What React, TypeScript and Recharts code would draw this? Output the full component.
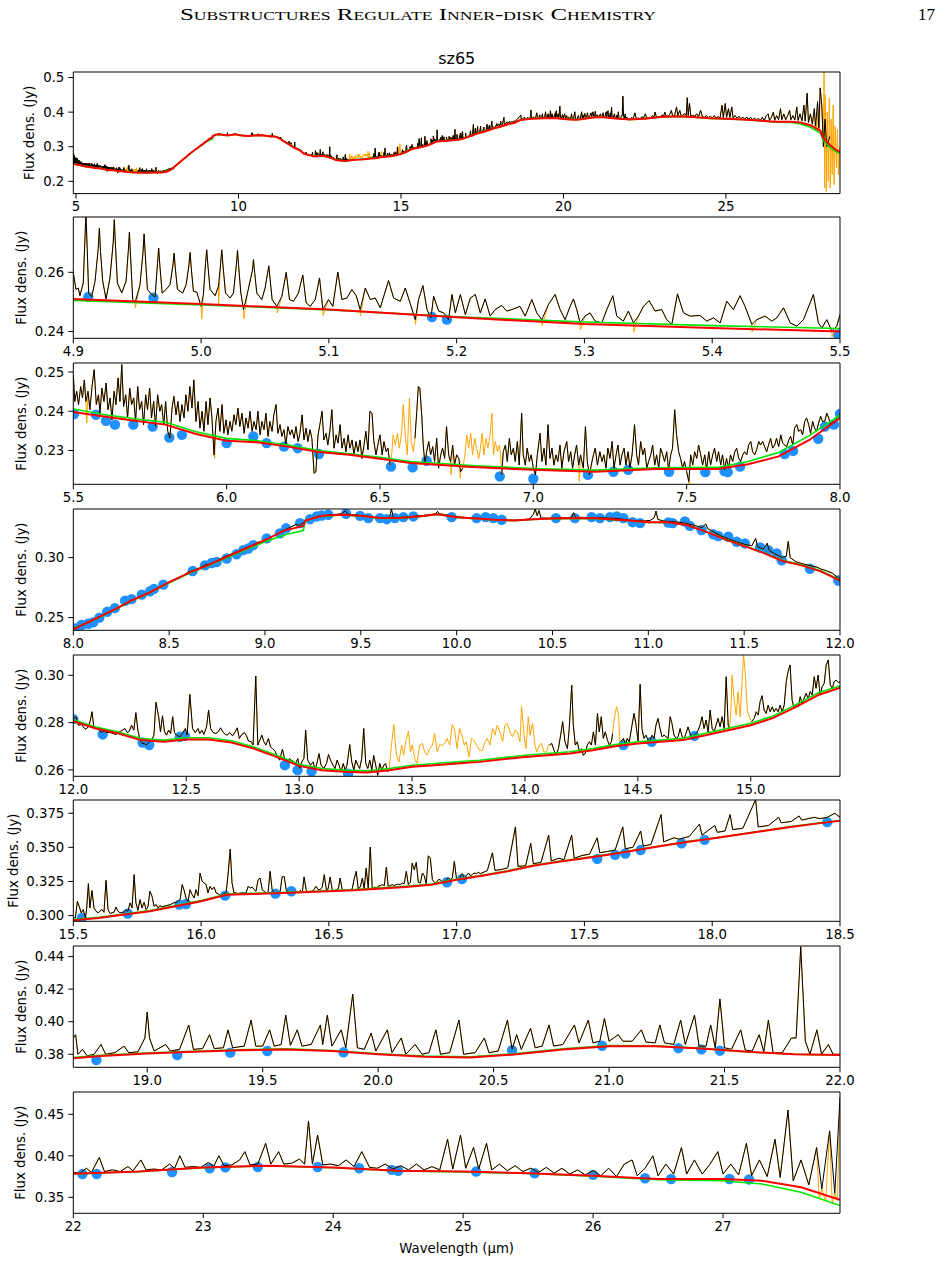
import React from "react";
import { ComposedChart, Line, Scatter, XAxis, YAxis, ReferenceArea, Label } from "recharts";

type P = [number, number | null];

// ---------- 4.9 – 5.5 µm ----------
const spec2: P[] = [
  [4.9000,0.2598],[4.9021,0.2542],[4.9039,0.2547],[4.9052,0.2521],[4.9078,0.2564],[4.9090,0.2700],[4.9099,0.2800],[4.9108,0.2690],[4.9120,0.2530],[4.9144,0.2517],
  [4.9170,0.2570],[4.9195,0.2680],[4.9204,0.2749],[4.9213,0.2670],[4.9230,0.2570],[4.9256,0.2510],[4.9287,0.2581],[4.9312,0.2700],[4.9321,0.2778],[4.9330,0.2690],[4.9345,0.2564],[4.9379,0.2530],
  [4.9413,0.2570],[4.9430,0.2670],[4.9439,0.2735],[4.9448,0.2655],[4.9465,0.2508],[4.9483,0.2497],[4.9522,0.2558],[4.9545,0.2665],[4.9554,0.2730],[4.9563,0.2660],[4.9580,0.2542],[4.9614,0.2525],
  [4.9640,0.2517],[4.9659,0.2630],[4.9668,0.2682],[4.9677,0.2625],[4.9695,0.2530],[4.9726,0.2542],[4.9757,0.2558],[4.9780,0.2625],[4.9789,0.2665],[4.9798,0.2615],[4.9815,0.2542],[4.9856,0.2530],
  [4.9883,0.2558],[4.9905,0.2625],[4.9914,0.2667],[4.9923,0.2615],[4.9940,0.2536],[4.9966,0.2533],[5.0000,0.2485],[5.0018,0.2525],[5.0035,0.2630],[5.0044,0.2676],[5.0053,0.2625],[5.0070,0.2542],
  [5.0110,0.2521],[5.0136,0.2553],[5.0153,0.2630],[5.0162,0.2676],[5.0171,0.2625],[5.0191,0.2530],[5.0227,0.2513],[5.0253,0.2530],[5.0276,0.2625],[5.0285,0.2674],[5.0294,0.2620],[5.0311,0.2530],
  [5.0332,0.2474],[5.0363,0.2530],[5.0401,0.2605],[5.0410,0.2643],[5.0419,0.2600],[5.0436,0.2530],[5.0475,0.2508],[5.0501,0.2547],[5.0530,0.2622],[5.0556,0.2508],
  [5.0593,0.2485],[5.0632,0.2519],[5.0666,0.2600],[5.0692,0.2508],[5.0723,0.2502],[5.0762,0.2530],[5.0796,0.2591],[5.0822,0.2497],
  [5.0854,0.2485],[5.0893,0.2508],[5.0927,0.2581],[5.0953,0.2474],[5.0997,0.2508],[5.1031,0.2485],[5.1070,0.2601],[5.1102,0.2508],
  [5.1141,0.2513],[5.1180,0.2542],[5.1214,0.2521],[5.1245,0.2474],[5.1285,0.2547],[5.1324,0.2508],[5.1363,0.2513],[5.1402,0.2480],
  [5.1467,0.2572],[5.1507,0.2513],[5.1559,0.2502],[5.1598,0.2547],[5.1637,0.2494],[5.1676,0.2440],[5.1702,0.2508],[5.1736,0.2555],
  [5.1768,0.2474],[5.1799,0.2446],[5.1820,0.2519],[5.1859,0.2469],[5.1898,0.2463],[5.1937,0.2440],[5.1963,0.2525],[5.1990,0.2463],
  [5.2029,0.2525],[5.2068,0.2457],[5.2107,0.2513],[5.2146,0.2525],[5.2185,0.2463],[5.2223,0.2510],[5.2262,0.2452],[5.2301,0.2474],
  [5.2353,0.2488],[5.2392,0.2469],[5.2431,0.2474],[5.2496,0.2485],[5.2536,0.2452],[5.2588,0.2508],[5.2627,0.2463],[5.2666,0.2440],
  [5.2718,0.2491],[5.2770,0.2525],[5.2810,0.2474],[5.2849,0.2440],[5.2888,0.2485],[5.2914,0.2510],[5.2940,0.2474],[5.2966,0.2429],
  [5.3005,0.2452],[5.3044,0.2463],[5.3083,0.2435],[5.3136,0.2429],[5.3175,0.2474],[5.3222,0.2521],[5.3253,0.2452],[5.3305,0.2435],
  [5.3344,0.2469],[5.3384,0.2429],[5.3423,0.2452],[5.3462,0.2485],[5.3506,0.2504],[5.3553,0.2469],[5.3605,0.2474],[5.3644,0.2440],
  [5.3684,0.2424],[5.3728,0.2527],[5.3775,0.2463],[5.3827,0.2452],[5.3905,0.2454],[5.3957,0.2435],[5.4010,0.2446],[5.4062,0.2429],
  [5.4114,0.2502],[5.4166,0.2474],[5.4218,0.2521],[5.4257,0.2485],[5.4310,0.2424],[5.4349,0.2440],[5.4414,0.2452],[5.4466,0.2435],
  [5.4505,0.2446],[5.4558,0.2480],[5.4610,0.2429],[5.4662,0.2418],[5.4714,0.2440],[5.4792,0.2525],[5.4831,0.2429],[5.4858,0.2412],
  [5.4897,0.2440],[5.4936,0.2401],[5.4975,0.2418],[5.5000,0.2457],
];
const mask2: P[] = [
  [4.9485,0.2480],[5.0005,0.2443],[5.0137,0.2490],[5.0334,0.2443],[5.0595,0.2463],[5.0955,0.2454],[5.1247,0.2452],
  [5.1678,0.2424],[5.2668,0.2420],[5.2968,0.2405],[5.3386,0.2398],[5.4312,0.2398],[5.4938,0.2382],
];
const red2: P[] = [[4.9,0.2510],[5.0,0.2493],[5.1,0.2474],[5.2,0.2448],[5.3,0.2425],[5.4,0.2412],[5.5,0.2400]];
const green2: P[] = [[4.9,0.2505],[5.0,0.2490],[5.1,0.2473],[5.2,0.2450],[5.3,0.2432],[5.4,0.2420],[5.5,0.2410]];
const anchors2: P[] = [[4.9117,0.2517],[4.9627,0.2514],[5.1807,0.2449],[5.1924,0.2440],[5.4985,0.2390]];

// ---------- 5.5 – 8.0 µm ----------
const spec3: P[] = [
  [5.500,0.2493],[5.505,0.2425],[5.511,0.2451],[5.517,0.2417],[5.524,0.2463],[5.530,0.2434],[5.536,0.2480],[5.541,0.2425],
  [5.548,0.2451],[5.554,0.2404],[5.561,0.2463],[5.568,0.2506],[5.575,0.2417],[5.582,0.2442],[5.587,0.2395],[5.593,0.2459],
  [5.600,0.2425],[5.607,0.2472],[5.613,0.2404],[5.620,0.2434],[5.626,0.2378],[5.633,0.2451],[5.639,0.2417],[5.646,0.2485],
  [5.652,0.2425],[5.658,0.2519],[5.664,0.2412],[5.671,0.2442],[5.677,0.2383],[5.684,0.2459],[5.690,0.2417],[5.697,0.2434],
  [5.703,0.2374],[5.710,0.2463],[5.716,0.2404],[5.723,0.2425],[5.729,0.2366],[5.736,0.2442],[5.742,0.2404],[5.749,0.2459],
  [5.755,0.2383],[5.762,0.2425],[5.768,0.2361],[5.775,0.2442],[5.782,0.2400],[5.788,0.2417],[5.795,0.2366],[5.801,0.2425],
  [5.808,0.2349],[5.815,0.2331],[5.822,0.2408],[5.828,0.2438],[5.835,0.2391],[5.841,0.2425],[5.848,0.2374],[5.854,0.2417],
  [5.861,0.2383],[5.867,0.2442],[5.874,0.2400],[5.880,0.2463],[5.887,0.2408],[5.893,0.2480],[5.900,0.2374],[5.907,0.2425],
  [5.913,0.2357],[5.920,0.2400],[5.926,0.2349],[5.933,0.2425],[5.939,0.2366],[5.946,0.2434],[5.952,0.2383],[5.959,0.2289],
  [5.965,0.2374],[5.972,0.2408],[5.978,0.2349],[5.985,0.2417],[5.991,0.2344],[5.998,0.2378],[6.004,0.2340],[6.011,0.2374],
  [6.017,0.2349],[6.024,0.2391],[6.030,0.2366],[6.037,0.2408],[6.043,0.2361],[6.050,0.2395],[6.057,0.2344],[6.063,0.2383],
  [6.070,0.2357],[6.076,0.2400],[6.083,0.2349],[6.089,0.2374],[6.096,0.2353],[6.102,0.2400],[6.109,0.2340],[6.115,0.2374],
  [6.122,0.2353],[6.128,0.2395],[6.135,0.2336],[6.141,0.2374],[6.148,0.2349],[6.154,0.2391],[6.161,0.2417],[6.167,0.2344],
  [6.174,0.2366],[6.180,0.2336],[6.187,0.2353],[6.193,0.2314],[6.200,0.2361],[6.207,0.2340],[6.213,0.2353],[6.220,0.2331],
  [6.226,0.2361],[6.233,0.2323],[6.239,0.2344],[6.246,0.2391],[6.252,0.2327],[6.259,0.2357],[6.265,0.2323],[6.272,0.2353],
  [6.278,0.2331],[6.285,0.2242],[6.291,0.2246],[6.298,0.2340],[6.304,0.2366],[6.311,0.2400],[6.317,0.2327],[6.324,0.2344],
  [6.330,0.2314],[6.337,0.2353],[6.343,0.2404],[6.350,0.2306],[6.357,0.2340],[6.363,0.2319],[6.370,0.2366],[6.376,0.2306],
  [6.383,0.2331],[6.389,0.2297],[6.396,0.2340],[6.402,0.2306],[6.409,0.2327],[6.415,0.2289],[6.422,0.2323],[6.428,0.2297],
  [6.435,0.2327],[6.441,0.2280],[6.448,0.2314],[6.454,0.2349],[6.461,0.2302],[6.467,0.2400],[6.474,0.2395],[6.480,0.2323],
  [6.487,0.2289],[6.493,0.2314],[6.500,0.2340],[6.507,0.2289],[6.513,0.2323],[6.520,0.2297],[6.526,0.2306],[6.533,0.2263],
  [6.536,null],
  [6.614,0.2331],[6.620,0.2400],[6.625,0.2463],[6.630,0.2459],[6.636,0.2391],[6.641,0.2314],[6.647,0.2263],[6.652,0.2297],
  [6.659,0.2323],[6.665,0.2289],[6.672,0.2310],[6.678,0.2272],[6.685,0.2331],[6.691,0.2255],[6.698,0.2289],[6.704,0.2306],
  [6.711,0.2280],[6.717,0.2361],[6.724,0.2289],[6.730,0.2272],[6.737,0.2314],[6.743,0.2263],[6.750,0.2289],[6.757,0.2280],
  [6.763,0.2246],[6.770,0.2255],
  [6.773,null],
  [6.897,0.2238],[6.902,0.2297],[6.909,0.2314],[6.915,0.2272],[6.922,0.2331],[6.928,0.2289],[6.935,0.2306],[6.941,0.2272],
  [6.948,0.2323],[6.954,0.2263],[6.962,0.2395],[6.967,0.2289],[6.974,0.2263],[6.980,0.2306],[6.987,0.2272],[6.993,0.2289],
  [7.000,0.2255],[7.007,0.2238],[7.013,0.2289],[7.022,0.2344],[7.028,0.2272],[7.035,0.2306],[7.041,0.2263],[7.048,0.2366],
  [7.054,0.2280],[7.061,0.2306],[7.067,0.2263],[7.074,0.2289],[7.080,0.2272],[7.087,0.2314],[7.093,0.2255],[7.100,0.2297],
  [7.109,0.2323],[7.115,0.2272],[7.122,0.2297],[7.128,0.2255],[7.135,0.2289],[7.141,0.2314],[7.148,0.2263],[7.154,0.2289],
  [7.163,0.2255],[7.170,0.2361],[7.176,0.2272],[7.183,0.2238],[7.189,0.2263],[7.196,0.2289],[7.202,0.2306],[7.209,0.2263],
  [7.217,0.2297],[7.224,0.2272],[7.230,0.2289],[7.237,0.2255],[7.243,0.2306],[7.250,0.2280],[7.257,0.2323],[7.263,0.2255],
  [7.270,0.2289],[7.276,0.2314],[7.283,0.2263],[7.289,0.2289],[7.296,0.2306],[7.302,0.2263],[7.309,0.2297],[7.315,0.2255],
  [7.322,0.2289],[7.330,0.2366],[7.337,0.2289],[7.343,0.2263],[7.350,0.2323],[7.357,0.2289],[7.363,0.2306],[7.370,0.2255],
  [7.376,0.2272],[7.383,0.2289],[7.389,0.2314],[7.396,0.2263],[7.402,0.2289],[7.409,0.2255],[7.415,0.2306],[7.422,0.2289],
  [7.428,0.2272],[7.435,0.2297],[7.441,0.2251],[7.448,0.2289],[7.454,0.2306],[7.461,0.2404],[7.467,0.2340],[7.474,0.2297],
  [7.480,0.2280],[7.487,0.2255],[7.493,0.2272],[7.500,0.2246],[7.507,0.2221],[7.513,0.2289],[7.520,0.2263],[7.526,0.2297],
  [7.533,0.2280],[7.539,0.2314],[7.546,0.2289],[7.552,0.2263],[7.559,0.2289],[7.565,0.2251],[7.572,0.2297],[7.578,0.2263],
  [7.585,0.2289],[7.591,0.2306],[7.598,0.2272],[7.604,0.2297],[7.611,0.2263],[7.617,0.2289],[7.624,0.2251],[7.630,0.2280],
  [7.637,0.2255],[7.643,0.2289],[7.650,0.2272],[7.657,0.2297],[7.663,0.2306],[7.670,0.2280],[7.676,0.2272],[7.683,0.2289],
  [7.689,0.2297],[7.696,0.2289],[7.702,0.2314],[7.709,0.2323],[7.715,0.2297],[7.722,0.2289],[7.728,0.2302],[7.735,0.2323],
  [7.741,0.2314],[7.748,0.2323],[7.754,0.2310],[7.761,0.2297],[7.767,0.2314],[7.774,0.2331],[7.780,0.2306],[7.787,0.2314],
  [7.793,0.2331],[7.800,0.2310],[7.807,0.2340],[7.813,0.2319],[7.820,0.2314],[7.826,0.2310],[7.833,0.2327],[7.839,0.2336],
  [7.846,0.2314],[7.852,0.2357],[7.859,0.2366],[7.865,0.2349],[7.872,0.2353],[7.878,0.2340],[7.885,0.2374],[7.891,0.2383],
  [7.898,0.2366],[7.904,0.2344],[7.911,0.2374],[7.917,0.2357],[7.924,0.2349],[7.930,0.2370],[7.937,0.2387],[7.943,0.2374],
  [7.950,0.2374],[7.957,0.2395],[7.963,0.2383],[7.970,0.2366],[7.976,0.2374],[7.983,0.2370],[7.989,0.2383],[7.996,0.2387],
  [8.000,0.2395],
];
const mask3: P[] = [
  [5.544,0.2370],[5.961,0.2280],
  [6.538,0.2289],[6.543,0.2340],[6.550,0.2314],[6.557,0.2344],[6.563,0.2306],[6.570,0.2340],[6.576,0.2417],[6.583,0.2331],
  [6.589,0.2289],[6.596,0.2434],[6.602,0.2323],[6.609,0.2297],
  [6.732,0.2238],[6.762,0.2230],
  [6.777,0.2289],[6.783,0.2340],[6.789,0.2306],[6.796,0.2344],[6.802,0.2289],[6.809,0.2331],[6.815,0.2306],[6.822,0.2280],
  [6.826,0.2297],[6.833,0.2344],[6.839,0.2289],[6.846,0.2331],[6.852,0.2306],[6.859,0.2340],[6.865,0.2395],[6.870,0.2289],
  [6.876,0.2323],[6.883,0.2297],[6.889,0.2314],[6.893,0.2289],
  [7.150,0.2221],[7.508,0.2214],
];
const red3: P[] = [
  [5.5,0.2398],[5.6,0.2387],[5.7,0.2376],[5.8,0.2366],[5.9,0.2342],[6.0,0.2325],[6.1,0.2321],[6.2,0.2310],[6.3,0.2296],
  [6.4,0.2289],[6.5,0.2279],[6.6,0.2268],[6.7,0.2263],[6.8,0.2258],[7.0,0.2251],[7.2,0.2246],[7.4,0.2253],[7.6,0.2253],
  [7.7,0.2265],[7.8,0.2285],[7.9,0.2327],[8.0,0.2383],
];
const green3: P[] = [
  [5.5,0.2406],[5.6,0.2392],[5.7,0.2381],[5.8,0.2372],[5.9,0.2348],[6.0,0.2331],[6.1,0.2325],[6.2,0.2314],[6.3,0.2300],
  [6.4,0.2292],[6.5,0.2283],[6.6,0.2272],[6.7,0.2267],[6.8,0.2262],[7.0,0.2254],[7.2,0.2250],[7.4,0.2256],[7.6,0.2257],
  [7.7,0.2272],[7.8,0.2295],[7.9,0.2338],[8.0,0.2390],
];
const anchors3: P[] = [
  [5.5022,0.2393],[5.5739,0.2391],[5.6065,0.2376],[5.6359,0.2366],[5.6957,0.2366],[5.7587,0.2361],[5.8130,0.2333],
  [5.8543,0.2340],[6.0000,0.2319],[6.0870,0.2336],[6.1304,0.2319],[6.1870,0.2310],[6.2315,0.2306],[6.3011,0.2291],
  [6.5359,0.2259],[6.6065,0.2257],[6.6522,0.2274],[6.8907,0.2234],[7.0000,0.2228],[7.1781,0.2238],[7.2612,0.2246],
  [7.3093,0.2251],[7.4426,0.2246],[7.5607,0.2245],[7.6230,0.2248],[7.6339,0.2245],[7.6743,0.2259],[7.8197,0.2291],
  [7.8470,0.2299],[7.9290,0.2330],[7.9508,0.2361],[7.9803,0.2366],[8.0000,0.2393],
];

// ---------- 8 – 12 µm ----------
const spec4: P[] = [
  [8.00,0.2415],[8.03,0.2425],[8.06,0.2445],[8.09,0.2465],[8.12,0.2490],[8.15,0.2515],[8.18,0.2535],[8.21,0.2560],
  [8.24,0.2585],[8.27,0.2610],[8.30,0.2645],[8.33,0.2660],[8.36,0.2685],[8.39,0.2705],[8.42,0.2725],[8.45,0.2750],
  [8.48,0.2780],[8.51,0.2800],[8.54,0.2820],[8.57,0.2845],[8.60,0.2880],[8.63,0.2895],[8.66,0.2915],[8.69,0.2940],
  [8.72,0.2950],[8.75,0.2975],[8.78,0.3000],[8.81,0.3020],[8.84,0.3040],[8.87,0.3060],[8.90,0.3080],[8.93,0.3100],
  [8.96,0.3125],[8.99,0.3140],[9.02,0.3160],[9.05,0.3185],[9.08,0.3215],[9.11,0.3235],[9.14,0.3260],[9.16,0.3275],
  [9.18,0.3270],[9.20,0.3290],[9.22,0.3310],[9.25,0.3330],[9.28,0.3345],[9.31,0.3350],[9.34,0.3358],[9.37,0.3360],
  [9.40,0.3365],[9.42,0.3390],[9.43,0.3362],[9.46,0.3358],[9.50,0.3350],[9.54,0.3342],[9.58,0.3333],[9.62,0.3330],
  [9.65,0.3332],[9.66,0.3405],[9.67,0.3332],[9.70,0.3335],[9.74,0.3338],[9.78,0.3345],[9.82,0.3350],[9.86,0.3358],
  [9.89,0.3365],[9.90,0.3385],[9.91,0.3365],[9.94,0.3358],[9.98,0.3345],[10.02,0.3338],[10.06,0.3332],[10.10,0.3330],
  [10.14,0.3325],[10.18,0.3318],[10.22,0.3315],[10.26,0.3312],[10.30,0.3312],[10.34,0.3315],[10.38,0.3322],[10.40,0.3360],
  [10.41,0.3405],[10.42,0.3350],[10.43,0.3392],[10.44,0.3330],[10.48,0.3328],[10.52,0.3330],[10.56,0.3332],[10.60,0.3335],
  [10.61,0.3375],[10.62,0.3335],[10.66,0.3335],[10.70,0.3333],[10.74,0.3332],[10.78,0.3330],[10.82,0.3328],[10.86,0.3322],
  [10.90,0.3312],[10.94,0.3308],[10.98,0.3305],[11.01,0.3310],[11.03,0.3330],[11.04,0.3388],[11.05,0.3318],[11.08,0.3305],
  [11.12,0.3300],[11.16,0.3295],[11.20,0.3285],[11.24,0.3268],[11.28,0.3250],[11.30,0.3280],[11.31,0.3240],[11.34,0.3215],
  [11.38,0.3180],[11.42,0.3155],[11.46,0.3132],[11.50,0.3112],[11.54,0.3098],[11.56,0.3160],[11.57,0.3090],[11.60,0.3070],
  [11.62,0.3120],[11.63,0.3060],[11.66,0.3030],[11.70,0.3000],[11.72,0.3012],[11.73,0.3135],[11.74,0.3000],[11.77,0.2965],
  [11.80,0.2950],[11.84,0.2935],[11.88,0.2920],[11.90,0.2905],[11.93,0.2890],[11.96,0.2870],[12.00,0.2820],
];
const mask4: P[] = [];
const red4: P[] = [
  [8.0,0.2402],[8.1,0.2478],[8.2,0.2556],[8.3,0.2640],[8.4,0.2711],[8.5,0.2795],[8.6,0.2871],[8.7,0.2935],[8.8,0.3006],
  [8.9,0.3076],[9.0,0.3146],[9.1,0.3225],[9.2,0.3264],[9.21,0.3309],[9.3,0.3348],[9.4,0.3357],[9.5,0.3348],[9.6,0.3329],
  [9.7,0.3329],[9.8,0.3343],[9.9,0.3362],[10.0,0.3337],[10.1,0.3326],[10.2,0.3315],[10.3,0.3309],[10.4,0.3320],[10.5,0.3326],
  [10.7,0.3329],[10.9,0.3309],[11.0,0.3295],[11.1,0.3295],[11.2,0.3272],[11.3,0.3216],[11.4,0.3152],[11.5,0.3096],
  [11.6,0.3039],[11.7,0.2972],[11.8,0.2935],[11.9,0.2885],[12.0,0.2809],
];
const green4: P[] = [
  [8.0,0.2405],[8.1,0.2476],[8.2,0.2552],[8.3,0.2636],[8.4,0.2707],[8.5,0.2790],[8.6,0.2866],[8.7,0.2930],[8.8,0.2998],
  [8.9,0.3066],[9.0,0.3132],[9.1,0.3188],[9.2,0.3225],[9.21,0.3306],[9.3,0.3346],[9.4,0.3355],[9.5,0.3346],[9.6,0.3327],
  [9.7,0.3327],[9.8,0.3341],[9.9,0.3360],[10.0,0.3335],[10.1,0.3324],[10.2,0.3313],[10.3,0.3307],[10.4,0.3318],[10.5,0.3324],
  [10.7,0.3327],[10.9,0.3307],[11.0,0.3293],[11.1,0.3293],[11.2,0.3272],[11.3,0.3218],[11.4,0.3155],[11.5,0.3099],
  [11.6,0.3043],[11.7,0.2977],[11.8,0.2940],[11.9,0.2890],[12.0,0.2815],
];
const anchors4: P[] = [
  [8.009,0.2410],[8.043,0.2438],[8.078,0.2449],[8.104,0.2460],[8.136,0.2500],[8.177,0.2548],[8.217,0.2579],[8.270,0.2640],
  [8.304,0.2654],[8.357,0.2691],[8.400,0.2719],[8.421,0.2739],[8.470,0.2775],[8.623,0.2888],[8.687,0.2935],[8.722,0.2955],
  [8.748,0.2963],[8.800,0.2992],[8.852,0.3028],[8.887,0.3062],[8.913,0.3076],[8.939,0.3104],[9.009,0.3160],[9.078,0.3202],
  [9.110,0.3244],[9.183,0.3287],[9.235,0.3320],[9.270,0.3343],[9.296,0.3351],[9.330,0.3357],[9.423,0.3365],[9.496,0.3348],
  [9.539,0.3329],[9.600,0.3329],[9.635,0.3320],[9.678,0.3329],[9.722,0.3337],[9.774,0.3343],[9.974,0.3337],[10.104,0.3329],
  [10.151,0.3337],[10.191,0.3329],[10.235,0.3315],[10.518,0.3329],[10.617,0.3329],[10.704,0.3337],[10.748,0.3329],
  [10.800,0.3337],[10.835,0.3343],[10.870,0.3329],[10.918,0.3295],[10.957,0.3287],[11.104,0.3292],[11.127,0.3287],
  [11.191,0.3301],[11.217,0.3264],[11.278,0.3230],[11.339,0.3194],[11.365,0.3180],[11.417,0.3174],[11.461,0.3132],
  [11.504,0.3118],[11.583,0.3084],[11.626,0.3062],[11.670,0.3034],[11.696,0.2978],[11.843,0.2907],[11.991,0.2809],
];

// ---------- 12 – 15.4 µm ----------
const spec5: P[] = [
  [12.000,0.2815],[12.012,0.2825],[12.022,0.2789],[12.037,0.2792],[12.047,0.2778],[12.056,0.2772],[12.066,0.2782],[12.074,0.2804],
  [12.083,0.2846],[12.091,0.2778],[12.103,0.2775],[12.115,0.2768],[12.125,0.2758],[12.136,0.2764],[12.147,0.2758],[12.162,0.2758],
  [12.177,0.2754],[12.189,0.2750],[12.199,0.2758],[12.209,0.2764],[12.218,0.2768],[12.229,0.2775],[12.239,0.2758],[12.248,0.2764],
  [12.258,0.2789],[12.268,0.2768],[12.277,0.2842],[12.286,0.2768],[12.295,0.2726],[12.304,0.2712],[12.313,0.2712],[12.324,0.2705],
  [12.336,0.2719],[12.347,0.2726],[12.357,0.2747],[12.366,0.2886],[12.378,0.2825],[12.386,0.2761],[12.395,0.2829],[12.404,0.2761],
  [12.413,0.2747],[12.422,0.2768],[12.431,0.2754],[12.440,0.2825],[12.448,0.2758],[12.457,0.2747],[12.472,0.2740],[12.484,0.2754],
  [12.496,0.2775],[12.504,0.2747],[12.516,0.2919],[12.528,0.2775],[12.540,0.2758],[12.552,0.2775],[12.560,0.2754],[12.569,0.2768],
  [12.578,0.2750],[12.590,0.2782],[12.599,0.2853],[12.608,0.2775],[12.619,0.2758],[12.631,0.2754],[12.642,0.2761],[12.652,0.2778],
  [12.664,0.2758],[12.673,0.2750],[12.681,0.2747],[12.693,0.2758],[12.705,0.2744],[12.717,0.2761],[12.726,0.2778],[12.735,0.2733],
  [12.746,0.2750],[12.758,0.2758],[12.767,0.2744],[12.776,0.2722],[12.788,0.2719],[12.796,0.2705],[12.808,0.2997],[12.817,0.2705],
  [12.826,0.2726],[12.835,0.2747],[12.844,0.2719],[12.853,0.2705],[12.864,0.2733],[12.873,0.2698],[12.882,0.2690],[12.894,0.2679],
  [12.903,0.2655],[12.914,0.2641],[12.926,0.2688],[12.935,0.2648],[12.947,0.2634],[12.956,0.2648],[12.965,0.2641],[12.973,0.2637],
  [12.985,0.2627],[12.994,0.2648],[13.003,0.2606],[13.012,0.2634],[13.021,0.2648],[13.029,0.2768],[13.038,0.2641],[13.050,0.2620],
  [13.062,0.2634],[13.071,0.2599],[13.080,0.2634],[13.088,0.2669],[13.097,0.2620],[13.109,0.2606],[13.121,0.2627],[13.130,0.2665],
  [13.139,0.2641],[13.150,0.2620],[13.159,0.2606],[13.168,0.2641],[13.177,0.2620],[13.186,0.2592],[13.195,0.2627],[13.204,0.2599],
  [13.212,0.2620],[13.224,0.2707],[13.233,0.2634],[13.242,0.2599],[13.251,0.2641],[13.260,0.2620],[13.268,0.2606],[13.277,0.2648],
  [13.286,0.2775],[13.295,0.2627],[13.304,0.2606],[13.313,0.2641],[13.322,0.2599],[13.330,0.2662],[13.339,0.2620],[13.348,0.2577],
  [13.357,0.2627],[13.366,0.2599],[13.375,0.2620],[13.383,0.2627],[13.392,0.2592],[13.398,0.2599],
  [13.403,null],
  [14.108,0.2705],[14.118,0.2712],[14.129,0.2683],[14.137,0.2662],[14.148,0.2690],[14.158,0.2747],[14.167,0.2804],[14.177,0.2719],
  [14.188,0.2690],[14.196,0.2775],[14.207,0.2959],[14.214,0.2789],[14.223,0.2705],[14.232,0.2719],[14.241,0.2676],[14.251,0.2690],
  [14.258,0.2662],[14.267,0.2669],[14.276,0.2705],[14.285,0.2719],[14.294,0.2705],[14.303,0.2761],[14.312,0.2705],[14.321,0.2839],
  [14.329,0.2761],[14.338,0.2825],[14.347,0.2733],[14.356,0.2761],[14.365,0.2726],[14.374,0.2705],[14.383,0.2719],[14.388,0.2754],
  [14.392,null],
  [14.424,0.2719],[14.436,0.2733],[14.445,0.2705],[14.453,0.2733],[14.462,0.2719],[14.474,0.2789],[14.483,0.2839],[14.492,0.2789],
  [14.501,0.2719],[14.510,0.2962],[14.518,0.2775],[14.527,0.2733],[14.536,0.2747],[14.545,0.2726],[14.554,0.2726],[14.563,0.2747],
  [14.572,0.2733],[14.580,0.2789],[14.589,0.2818],[14.598,0.2775],[14.607,0.2740],[14.616,0.2747],[14.625,0.2740],[14.634,0.2733],
  [14.643,0.2825],[14.651,0.2796],[14.660,0.2747],[14.669,0.2733],[14.678,0.2740],[14.687,0.2775],[14.696,0.2740],[14.705,0.2733],
  [14.713,0.2754],[14.722,0.2782],[14.731,0.2754],[14.740,0.2736],[14.749,0.2747],[14.758,0.2754],[14.767,0.2768],[14.775,0.2789],
  [14.784,0.2825],[14.793,0.2775],[14.802,0.2811],[14.811,0.2761],[14.820,0.2853],[14.829,0.2775],[14.838,0.2761],[14.846,0.2789],
  [14.855,0.2818],[14.864,0.2782],[14.873,0.2825],[14.882,0.2775],[14.891,0.2994],[14.900,0.2789],[14.906,0.2775],
  [14.910,null],
  [15.004,0.2804],[15.015,0.2818],[15.024,0.2846],[15.033,0.2832],[15.041,0.2888],[15.050,0.2914],[15.059,0.2853],[15.068,0.2839],
  [15.077,0.2874],[15.086,0.2846],[15.095,0.2867],[15.103,0.2846],[15.112,0.2860],[15.121,0.2846],[15.130,0.2874],[15.139,0.2846],
  [15.148,0.2874],[15.157,0.2973],[15.165,0.3016],[15.174,0.3044],[15.183,0.2895],[15.192,0.2860],[15.201,0.2874],[15.210,0.2867],
  [15.219,0.2910],[15.227,0.2881],[15.236,0.2902],[15.245,0.2924],[15.254,0.2902],[15.263,0.2931],[15.272,0.2917],[15.281,0.2994],
  [15.289,0.2945],[15.298,0.3001],[15.307,0.2917],[15.316,0.2952],[15.325,0.2966],[15.334,0.3044],[15.343,0.3065],[15.352,0.2959],
  [15.361,0.2945],[15.369,0.2973],[15.378,0.2980],[15.387,0.2970],[15.396,0.2973],
];
const mask5: P[] = [
  [13.409,0.2705],[13.419,0.2792],[13.431,0.2662],[13.442,0.2634],[13.454,0.2705],[13.463,0.2662],[13.472,0.2719],[13.484,0.2764],
  [13.493,0.2676],[13.501,0.2705],[13.512,0.2648],[13.522,0.2627],[13.534,0.2705],[13.546,0.2712],[13.556,0.2676],[13.566,0.2662],
  [13.578,0.2690],[13.590,0.2705],[13.600,0.2754],[13.611,0.2676],[13.622,0.2705],[13.634,0.2705],[13.645,0.2712],[13.655,0.2733],
  [13.667,0.2705],[13.678,0.2792],[13.689,0.2768],[13.699,0.2690],[13.711,0.2775],[13.720,0.2747],[13.732,0.2705],[13.740,0.2719],
  [13.752,0.2655],[13.763,0.2733],[13.773,0.2726],[13.785,0.2705],[13.799,0.2683],[13.812,0.2683],[13.823,0.2719],[13.833,0.2733],
  [13.845,0.2705],[13.857,0.2775],[13.867,0.2747],[13.877,0.2789],[13.889,0.2761],[13.901,0.2719],[13.911,0.2789],[13.922,0.2796],
  [13.934,0.2761],[13.945,0.2740],[13.956,0.2768],[13.966,0.2761],[13.978,0.2719],[13.985,0.2867],[13.996,0.2747],[14.004,0.2690],
  [14.015,0.2825],[14.022,0.2747],[14.034,0.2796],[14.044,0.2705],[14.052,0.2676],[14.064,0.2705],[14.074,0.2712],[14.084,0.2676],
  [14.096,0.2676],[14.104,0.2705],
  [14.397,0.2829],[14.406,0.2867],[14.415,0.2829],[14.420,0.2719],
  [14.912,0.2850],[14.917,0.3001],[14.926,0.2902],[14.935,0.2832],[14.944,0.2931],[14.953,0.2825],[14.962,0.2987],[14.968,0.3090],
  [14.976,0.3001],[14.985,0.2846],[14.994,0.2825],[15.000,0.2810],
];
const red5: P[] = [
  [12.0,0.2806],[12.1,0.2775],[12.2,0.2754],[12.3,0.2726],[12.4,0.2719],[12.5,0.2729],[12.6,0.2729],[12.7,0.2716],[12.8,0.2690],
  [12.9,0.2655],[13.0,0.2617],[13.1,0.2599],[13.2,0.2592],[13.3,0.2589],[13.4,0.2599],[13.5,0.2613],[13.6,0.2620],[13.7,0.2627],
  [13.8,0.2634],[14.0,0.2655],[14.2,0.2669],[14.3,0.2683],[14.4,0.2700],[14.5,0.2712],[14.6,0.2719],[14.7,0.2726],[14.8,0.2747],
  [14.9,0.2768],[15.0,0.2789],[15.1,0.2820],[15.2,0.2867],[15.3,0.2917],[15.396,0.2948],
];
const green5: P[] = [
  [12.0,0.2812],[12.1,0.2781],[12.2,0.2760],[12.3,0.2733],[12.4,0.2726],[12.5,0.2736],[12.6,0.2736],[12.7,0.2723],[12.8,0.2697],
  [12.9,0.2662],[13.0,0.2624],[13.1,0.2606],[13.2,0.2599],[13.3,0.2596],[13.4,0.2606],[13.5,0.2620],[13.6,0.2627],[13.7,0.2634],
  [13.8,0.2641],[14.0,0.2662],[14.2,0.2677],[14.3,0.2690],[14.4,0.2707],[14.5,0.2719],[14.6,0.2726],[14.7,0.2734],[14.8,0.2755],
  [14.9,0.2776],[15.0,0.2797],[15.1,0.2828],[15.2,0.2876],[15.3,0.2926],[15.396,0.2956],
];
const anchors5: P[] = [
  [12.000,0.2815],[12.130,0.2750],[12.307,0.2716],[12.336,0.2705],[12.472,0.2740],[12.494,0.2744],[12.937,0.2620],
  [12.993,0.2599],[13.055,0.2594],[13.217,0.2584],[14.436,0.2705],[14.561,0.2719],[14.750,0.2744],
];

// ---------- 15.5 – 18.5 µm ----------
const spec6: P[] = [
  [15.500,0.2983],[15.508,0.2983],[15.516,0.3105],[15.523,0.3068],[15.531,0.3020],[15.539,0.3044],[15.547,0.2983],[15.552,0.3044],
  [15.559,0.3234],[15.565,0.3056],[15.573,0.3183],[15.581,0.3056],[15.589,0.3032],[15.597,0.3020],[15.604,0.3032],[15.612,0.3044],
  [15.620,0.3024],[15.628,0.3258],[15.636,0.3044],[15.644,0.3015],[15.651,0.3020],[15.659,0.3024],[15.667,0.3063],[15.675,0.3032],
  [15.683,0.3020],[15.691,0.3024],[15.698,0.3024],[15.706,0.3039],[15.714,0.3032],[15.722,0.3093],[15.730,0.3056],[15.738,0.3300],
  [15.745,0.3093],[15.753,0.3039],[15.761,0.3117],[15.769,0.3056],[15.777,0.3097],[15.785,0.3044],[15.792,0.3063],[15.800,0.3178],
  [15.808,0.3141],[15.816,0.3068],[15.824,0.3080],[15.832,0.3056],[15.839,0.3073],[15.847,0.3063],[15.855,0.3068],[15.866,0.3073],
  [15.879,0.3080],[15.892,0.3093],[15.905,0.3097],[15.918,0.3117],[15.926,0.3227],[15.933,0.3190],[15.941,0.3129],[15.949,0.3105],
  [15.957,0.3190],[15.965,0.3153],[15.973,0.3129],[15.980,0.3190],[15.988,0.3146],[15.996,0.3312],[16.004,0.3251],[16.012,0.3239],
  [16.020,0.3227],[16.027,0.3166],[16.035,0.3214],[16.043,0.3190],[16.051,0.3209],[16.059,0.3166],[16.067,0.3161],[16.074,0.3146],
  [16.082,0.3153],[16.090,0.3161],[16.098,0.3166],[16.106,0.3312],[16.114,0.3487],[16.121,0.3239],[16.129,0.3166],[16.137,0.3166],
  [16.145,0.3161],[16.153,0.3166],[16.161,0.3166],[16.168,0.3166],[16.176,0.3166],[16.184,0.3214],[16.192,0.3202],[16.200,0.3209],
  [16.208,0.3190],[16.215,0.3178],[16.223,0.3263],[16.231,0.3275],[16.239,0.3190],[16.247,0.3178],[16.255,0.3166],[16.262,0.3166],
  [16.270,0.3324],[16.278,0.3190],[16.286,0.3166],[16.294,0.3166],[16.302,0.3161],[16.309,0.3170],[16.317,0.3283],[16.325,0.3287],
  [16.333,0.3190],[16.341,0.3166],[16.349,0.3166],[16.356,0.3170],[16.364,0.3166],[16.372,0.3178],[16.380,0.3166],[16.388,0.3185],
  [16.396,0.3170],[16.403,0.3283],[16.411,0.3190],[16.419,0.3166],[16.427,0.3178],[16.435,0.3178],[16.443,0.3195],[16.450,0.3214],
  [16.458,0.3190],[16.466,0.3190],[16.474,0.3209],[16.482,0.3300],[16.490,0.3190],[16.497,0.3195],[16.505,0.3283],[16.513,0.3190],
  [16.521,0.3178],[16.529,0.3190],[16.537,0.3195],[16.544,0.3275],[16.552,0.3190],[16.560,0.3185],[16.568,0.3190],[16.576,0.3183],
  [16.584,0.3190],[16.591,0.3195],[16.599,0.3268],[16.607,0.3324],[16.615,0.3195],[16.623,0.3209],[16.631,0.3275],[16.638,0.3195],
  [16.646,0.3348],[16.654,0.3202],[16.662,0.3502],[16.670,0.3190],[16.678,0.3209],[16.685,0.3202],[16.693,0.3214],[16.701,0.3219],
  [16.709,0.3227],[16.717,0.3219],[16.725,0.3356],[16.732,0.3214],[16.740,0.3219],[16.748,0.3227],[16.756,0.3219],[16.764,0.3227],
  [16.772,0.3229],[16.779,0.3227],[16.787,0.3239],[16.795,0.3234],[16.803,0.3324],[16.811,0.3227],[16.819,0.3244],[16.826,0.3385],
  [16.834,0.3336],[16.842,0.3390],[16.850,0.3244],[16.858,0.3239],[16.866,0.3312],[16.873,0.3292],[16.881,0.3234],[16.889,0.3438],
  [16.897,0.3421],[16.905,0.3263],[16.913,0.3244],[16.920,0.3239],[16.928,0.3263],[16.936,0.3263],[16.944,0.3244],[16.952,0.3251],
  [16.960,0.3263],[16.967,0.3275],[16.975,0.3263],[16.983,0.3275],[16.991,0.3397],[16.999,0.3275],[17.007,0.3263],[17.014,0.3283],
  [17.022,0.3307],[17.030,0.3263],[17.038,0.3292],[17.046,0.3312],[17.054,0.3292],[17.061,0.3300],[17.069,0.3312],[17.077,0.3307],
  [17.085,0.3317],[17.093,0.3307],
  [17.12,0.3330],[17.14,0.3460],[17.15,0.3330],[17.18,0.3340],[17.20,0.3350],[17.23,0.3650],[17.24,0.3360],[17.27,0.3365],
  [17.29,0.3530],[17.30,0.3380],[17.33,0.3390],[17.36,0.3590],[17.37,0.3400],[17.40,0.3420],[17.42,0.3410],[17.45,0.3590],
  [17.46,0.3420],[17.49,0.3440],[17.52,0.3450],[17.55,0.3570],[17.56,0.3460],[17.59,0.3470],[17.62,0.3480],[17.65,0.3650],
  [17.66,0.3490],[17.69,0.3500],[17.72,0.3620],[17.73,0.3510],[17.76,0.3520],[17.80,0.3740],[17.81,0.3540],[17.85,0.3570],
  [17.87,0.3560],[17.91,0.3580],[17.95,0.3670],[17.96,0.3590],[18.01,0.3660],[18.02,0.3610],[18.05,0.3620],[18.07,0.3740],
  [18.08,0.3630],[18.12,0.3640],[18.17,0.3850],[18.18,0.3650],[18.22,0.3660],[18.26,0.3720],[18.27,0.3680],[18.31,0.3690],
  [18.34,0.3730],[18.35,0.3700],[18.40,0.3720],[18.42,0.3710],[18.45,0.3720],[18.48,0.3750],[18.50,0.3720],
];
const mask6: P[] = [];
const red6: P[] = [
  [15.5,0.2966],[15.6,0.2983],[15.7,0.3007],[15.8,0.3032],[15.9,0.3068],[16.0,0.3105],[16.1,0.3153],[16.2,0.3158],[16.4,0.3170],
  [16.6,0.3185],[16.8,0.3209],[16.9,0.3226],[17.0,0.3263],[17.1,0.3292],[17.2,0.3325],[17.3,0.3365],[17.4,0.3395],[17.5,0.3420],
  [17.6,0.3448],[17.7,0.3478],[17.8,0.3510],[17.9,0.3540],[18.0,0.3565],[18.1,0.3592],[18.2,0.3620],[18.3,0.3648],[18.4,0.3672],
  [18.5,0.3695],
];
const green6: P[] = [
  [15.5,0.2970],[15.6,0.2988],[15.7,0.3012],[15.8,0.3037],[15.9,0.3073],[16.0,0.3110],[16.1,0.3157],[16.2,0.3163],[16.4,0.3175],
  [16.6,0.3190],[16.8,0.3214],[16.9,0.3231],[17.0,0.3267],[17.1,0.3296],[17.2,0.3329],[17.3,0.3368],[17.4,0.3398],[17.5,0.3423],
  [17.6,0.3451],[17.7,0.3481],[17.8,0.3512],[17.9,0.3542],[18.0,0.3567],[18.1,0.3594],[18.2,0.3622],[18.3,0.3650],[18.4,0.3674],
  [18.5,0.3697],
];
const anchors6: P[] = [
  [15.533,0.2983],[15.713,0.3015],[15.915,0.3080],[15.941,0.3085],[16.094,0.3146],[16.291,0.3161],[16.353,0.3178],
  [16.962,0.3244],[17.021,0.3268],[17.55,0.3415],[17.62,0.3445],[17.66,0.3455],[17.72,0.3480],[17.88,0.3530],[17.97,0.3555],
  [18.45,0.3685],
];

// ---------- 18.7 – 22 µm ----------
const spec7: P[] = [
  [18.68,0.3900],[18.69,0.3920],[18.70,0.3800],[18.72,0.3830],[18.74,0.3790],[18.77,0.3800],[18.80,0.3860],[18.82,0.3800],
  [18.86,0.3810],[18.90,0.3850],[18.92,0.3810],[18.96,0.3815],[18.99,0.3900],[19.00,0.4060],[19.01,0.3900],[19.03,0.3820],
  [19.08,0.3860],[19.10,0.3820],[19.14,0.3830],[19.18,0.3980],[19.20,0.3830],[19.24,0.3835],[19.27,0.3920],[19.29,0.3835],
  [19.33,0.3840],[19.35,0.3950],[19.37,0.3840],[19.42,0.3850],[19.45,0.4010],[19.47,0.3850],[19.50,0.3850],[19.53,0.3950],
  [19.55,0.3850],[19.58,0.3860],[19.60,0.4040],[19.62,0.3855],[19.65,0.3950],[19.67,0.3850],[19.71,0.3860],[19.75,0.3980],
  [19.76,0.3860],[19.78,0.4040],[19.80,0.3850],[19.84,0.3950],[19.86,0.3840],[19.89,0.4170],[19.91,0.3840],[19.94,0.3830],
  [19.97,0.3930],[19.99,0.3820],[20.04,0.3950],[20.06,0.3810],[20.10,0.3900],[20.12,0.3800],[20.16,0.3860],[20.19,0.3800],
  [20.22,0.3810],[20.25,0.3950],[20.27,0.3800],[20.31,0.3810],[20.35,0.4010],[20.37,0.3800],[20.42,0.3810],[20.46,0.3900],
  [20.48,0.3810],[20.52,0.3820],[20.56,0.4010],[20.58,0.3830],[20.60,0.3920],[20.62,0.3830],[20.66,0.3960],[20.68,0.3840],
  [20.71,0.3850],[20.74,0.3980],[20.76,0.3850],[20.80,0.3860],[20.85,0.3980],[20.87,0.3870],[20.91,0.4010],[20.93,0.3870],
  [20.96,0.3880],[20.98,0.4020],[21.00,0.3880],[21.04,0.3920],[21.06,0.3880],[21.10,0.3880],[21.14,0.3950],[21.16,0.3875],
  [21.20,0.3870],[21.22,0.3980],[21.24,0.3870],[21.28,0.3860],[21.31,0.4010],[21.33,0.3860],[21.37,0.4040],[21.39,0.3850],
  [21.42,0.3850],[21.44,0.3980],[21.46,0.3840],[21.48,0.4140],[21.50,0.3840],[21.53,0.3830],[21.57,0.3950],[21.59,0.3825],
  [21.62,0.3820],[21.65,0.3920],[21.67,0.3815],[21.69,0.4010],[21.71,0.3810],[21.75,0.3810],[21.79,0.3900],[21.81,0.3900],
  [21.83,0.4460],[21.85,0.3880],[21.87,0.3800],[21.90,0.3950],[21.92,0.3800],[21.95,0.3860],[21.97,0.3800],[22.00,0.3800],
];
const mask7: P[] = [];
const red7: P[] = [
  [18.68,0.3775],[18.8,0.3790],[19.0,0.3805],[19.2,0.3815],[19.4,0.3825],[19.6,0.3830],[19.8,0.3820],[20.0,0.3800],[20.2,0.3785],
  [20.4,0.3780],[20.6,0.3800],[20.8,0.3830],[21.0,0.3850],[21.2,0.3850],[21.4,0.3835],[21.6,0.3815],[21.8,0.3800],[22.0,0.3795],
];
const green7: P[] = [
  [18.68,0.3780],[18.8,0.3793],[19.0,0.3808],[19.2,0.3818],[19.4,0.3828],[19.6,0.3833],[19.8,0.3823],[20.0,0.3803],[20.2,0.3789],
  [20.4,0.3784],[20.6,0.3804],[20.8,0.3834],[21.0,0.3853],[21.2,0.3852],[21.4,0.3836],[21.6,0.3815],[21.8,0.3800],[22.0,0.3795],
];
const anchors7: P[] = [
  [18.78,0.3765],[19.13,0.3795],[19.36,0.3810],[19.52,0.3820],[19.85,0.3812],[20.58,0.3825],[20.97,0.3852],
  [21.30,0.3838],[21.40,0.3830],[21.48,0.3822],
];

// ---------- 22 – 27.9 µm ----------
const spec8: P[] = [
  [22.00,0.3800],[22.05,0.3790],[22.10,0.3850],[22.14,0.3800],[22.20,0.3980],[22.24,0.3810],[22.30,0.3830],[22.36,0.3810],
  [22.42,0.3870],[22.46,0.3820],[22.52,0.3950],[22.56,0.3830],[22.62,0.3840],[22.68,0.3830],[22.74,0.3900],[22.78,0.3850],
  [22.82,0.4000],[22.86,0.3860],[22.92,0.3870],[22.98,0.3860],[23.04,0.3920],[23.08,0.3870],[23.12,0.4000],[23.16,0.3880],
  [23.22,0.3890],[23.28,0.3950],[23.32,0.4050],[23.36,0.3890],[23.42,0.3900],[23.48,0.4150],[23.52,0.3900],[23.58,0.4050],
  [23.62,0.3900],[23.68,0.3910],[23.74,0.3960],[23.78,0.3900],[23.81,0.4420],[23.84,0.3900],[23.88,0.4250],[23.92,0.3890],
  [23.98,0.3900],[24.04,0.3880],[24.10,0.3950],[24.16,0.3870],[24.22,0.4050],[24.28,0.3860],[24.34,0.3850],[24.40,0.3900],
  [24.46,0.3840],[24.52,0.3880],[24.58,0.3830],[24.64,0.3900],[24.70,0.3830],[24.76,0.3870],[24.82,0.3830],[24.88,0.4200],
  [24.92,0.3840],[24.98,0.4250],[25.02,0.3850],[25.08,0.4100],[25.12,0.3840],[25.18,0.4150],[25.22,0.3830],[25.28,0.3900],
  [25.34,0.3820],[25.40,0.3880],[25.46,0.3810],[25.52,0.3850],[25.58,0.3800],[25.64,0.3860],[25.70,0.3790],[25.76,0.3850],
  [25.82,0.3780],[25.88,0.3830],[25.94,0.3770],[26.00,0.3820],[26.06,0.3760],[26.12,0.3850],[26.18,0.3750],[26.24,0.3900],
  [26.30,0.3950],[26.34,0.3760],[26.40,0.3850],[26.46,0.4000],[26.50,0.3760],[26.56,0.3900],[26.62,0.3780],[26.68,0.4100],
  [26.72,0.3780],[26.78,0.3950],[26.84,0.3780],[26.90,0.3900],[26.96,0.4050],[27.00,0.3780],[27.06,0.3900],[27.12,0.3770],
  [27.18,0.4150],[27.22,0.3760],[27.28,0.3950],[27.34,0.3750],[27.40,0.4200],[27.44,0.3740],[27.50,0.4550],[27.54,0.3700],
  [27.60,0.3950],[27.66,0.3650],[27.72,0.4100],[27.76,0.3600],[27.82,0.4300],[27.86,0.3550],[27.90,0.4700],
];
const mask8: P[] = [[27.74,0.3480],[27.79,0.3450],[27.84,0.3420],[27.88,0.3460]];
const red8: P[] = [
  [22.0,0.3785],[22.5,0.3810],[23.0,0.3860],[23.5,0.3880],[24.0,0.3860],[24.5,0.3820],[25.0,0.3810],[25.5,0.3790],
  [26.0,0.3760],[26.5,0.3720],[27.0,0.3720],[27.3,0.3700],[27.6,0.3620],[27.9,0.3470],
];
const green8: P[] = [
  [22.0,0.3782],[22.5,0.3808],[23.0,0.3858],[23.5,0.3877],[24.0,0.3856],[24.5,0.3816],[25.0,0.3806],[25.5,0.3786],
  [26.0,0.3754],[26.5,0.3712],[27.0,0.3700],[27.3,0.3660],[27.6,0.3560],[27.9,0.3400],
];
const anchors8: P[] = [
  [22.07,0.3780],[22.18,0.3780],[22.76,0.3805],[23.05,0.3850],[23.17,0.3860],[23.42,0.3865],[23.88,0.3865],[24.20,0.3850],
  [24.45,0.3830],[24.50,0.3820],[25.10,0.3810],[25.55,0.3790],[26.00,0.3770],[26.40,0.3730],[26.60,0.3720],[27.05,0.3720],
  [27.20,0.3715],
];

// ---------- long-wavelength end, shown only in the overview ----------
const specTail: P[] = [[27.95,0.4200],[28.00,0.3000],[28.05,0.3800],[28.10,0.3000],[28.20,0.3300]];
const maskTail: P[] = [
  [28.02,0.5200],[28.04,0.1800],[28.06,0.4500],[28.09,0.1700],[28.12,0.4000],[28.15,0.2000],[28.18,0.4400],[28.21,0.1800],
  [28.24,0.3800],[28.27,0.2200],[28.30,0.4200],[28.33,0.1900],[28.36,0.3600],[28.40,0.2400],[28.43,0.3500],[28.46,0.2200],
  [28.50,0.3000],
];
const redTail: P[] = [[28.0,0.3250],[28.2,0.3050],[28.4,0.2900],[28.51,0.2850]];
const greenTail: P[] = [[28.0,0.3180],[28.2,0.2980],[28.4,0.2850],[28.51,0.2800]];

// ---------- axes ----------
const ticks1X = [5, 10, 15, 20, 25];
const ticks1Y = [0.2, 0.3, 0.4, 0.5];
const ticks2X = [4.9, 5.0, 5.1, 5.2, 5.3, 5.4, 5.5];
const ticks2Y = [0.24, 0.26];
const ticks3X = [5.5, 6.0, 6.5, 7.0, 7.5, 8.0];
const ticks3Y = [0.23, 0.24, 0.25];
const ticks4X = [8.0, 8.5, 9.0, 9.5, 10.0, 10.5, 11.0, 11.5, 12.0];
const ticks4Y = [0.25, 0.3];
const ticks5X = [12.0, 12.5, 13.0, 13.5, 14.0, 14.5, 15.0];
const ticks5Y = [0.26, 0.28, 0.3];
const ticks6X = [15.5, 16.0, 16.5, 17.0, 17.5, 18.0, 18.5];
const ticks6Y = [0.3, 0.325, 0.35, 0.375];
const ticks7X = [19.0, 19.5, 20.0, 20.5, 21.0, 21.5, 22.0];
const ticks7Y = [0.38, 0.4, 0.42, 0.44];
const ticks8X = [22, 23, 24, 25, 26, 27];
const ticks8Y = [0.35, 0.4, 0.45];

type Row = { x: number; y: number | null };
const rows = (a: P[]): Row[] => a.map(([x, y]) => ({ x, y }));
const fullRows = (spec: P[], mask: P[]): Row[] =>
  rows([...spec.filter((p) => p[1] !== null), ...mask].sort((a, b) => a[0] - b[0]));

interface PanelProps {
  top: number;
  plotH: number;
  xDomain: [number, number];
  yDomain: [number, number];
  xTicks: number[];
  yTicks: number[];
  xDec: number;
  yDec: number;
  spec: P[];
  mask: P[];
  red: P[];
  green: P[];
  anchors: P[];
  labelX: number;
  xLabel?: string;
}

const FONT = "DejaVu Sans, sans-serif";
const PLOT_LEFT = 73.3;
const PLOT_RIGHT = 840;
const W = 945;
const HEAD = 12; // room above each plot for the top tick label

function Panel(p: PanelProps) {
  const xAxisH = p.xLabel ? 48 : 26;
  const specRows = rows(p.spec);
  const allRows = fullRows(p.spec, p.mask);
  return (
    <div style={{ position: "absolute", left: 0, top: p.top - HEAD }}>
      <ComposedChart
        width={W}
        height={HEAD + p.plotH + xAxisH}
        margin={{ top: HEAD, right: W - PLOT_RIGHT, bottom: 0, left: 0 }}
      >
        <XAxis
          type="number"
          dataKey="x"
          domain={p.xDomain}
          allowDataOverflow
          ticks={p.xTicks}
          interval={0}
          tickFormatter={(v: number) => v.toFixed(p.xDec)}
          axisLine={false}
          tickLine={{ stroke: "#000", strokeWidth: 1 }}
          tickSize={5}
          tickMargin={3}
          height={xAxisH}
          tick={{ fontSize: 13.3, fill: "#000", fontFamily: FONT }}
        >
          {p.xLabel ? (
            <Label
              content={(lp: any) => {
                const vb = lp.viewBox || {};
                const cx = (vb.x ?? PLOT_LEFT) + (vb.width ?? PLOT_RIGHT - PLOT_LEFT) / 2;
                return (
                  <text x={cx} y={(vb.y ?? 0) + 39.5} textAnchor="middle" fontSize={13.3} fontFamily={FONT} fill="#000">
                    {p.xLabel}
                  </text>
                );
              }}
            />
          ) : null}
        </XAxis>
        <YAxis
          type="number"
          dataKey="y"
          domain={p.yDomain}
          allowDataOverflow
          ticks={p.yTicks}
          interval={0}
          tickFormatter={(v: number) => v.toFixed(p.yDec)}
          axisLine={false}
          tickLine={{ stroke: "#000", strokeWidth: 1 }}
          tickSize={5}
          tickMargin={4}
          width={PLOT_LEFT}
          tick={{ fontSize: 13.3, fill: "#000", fontFamily: FONT }}
        >
          <Label
            content={(lp: any) => {
              const vb = lp.viewBox || {};
              const cy = (vb.y ?? HEAD) + (vb.height ?? p.plotH) / 2;
              return (
                <text
                  x={p.labelX}
                  y={cy}
                  transform={`rotate(-90 ${p.labelX} ${cy})`}
                  textAnchor="middle"
                  dominantBaseline="central"
                  fontSize={13.3}
                  fontFamily={FONT}
                  fill="#000"
                >
                  Flux dens. (Jy)
                </text>
              );
            }}
          />
        </YAxis>
        <Scatter
          data={rows(p.anchors)}
          isAnimationActive={false}
          zIndex={350}
          shape={(sp: any) => <circle cx={sp.cx} cy={sp.cy} r={5.2} fill="#1e90ff" />}
        />
        <Line data={allRows} dataKey="y" stroke="#ffa500" strokeWidth={1} dot={false} activeDot={false} isAnimationActive={false} />
        <Line data={specRows} dataKey="y" stroke="#000" strokeWidth={1} dot={false} activeDot={false} isAnimationActive={false} />
        <Line data={rows(p.green)} dataKey="y" stroke="#00e600" strokeWidth={1.6} dot={false} activeDot={false} isAnimationActive={false} />
        <Line data={rows(p.red)} dataKey="y" stroke="#ff0000" strokeWidth={2} dot={false} activeDot={false} isAnimationActive={false} />
        <ReferenceArea
          x1={p.xDomain[0]}
          x2={p.xDomain[1]}
          y1={p.yDomain[0]}
          y2={p.yDomain[1]}
          fill="none"
          fillOpacity={0}
          stroke="#000"
          strokeWidth={1}
          ifOverflow="visible"
          zIndex={1500}
        />
      </ComposedChart>
    </div>
  );
}

const overviewSpec: P[] = [...spec2, ...spec3, ...spec4, ...spec5, ...spec6, ...spec7, ...spec8, ...specTail];
const overviewMask: P[] = [...mask2, ...mask3, ...mask4, ...mask5, ...mask6, ...mask7, ...mask8, ...maskTail];
const overviewRed: P[] = [...red2, ...red3, ...red4, ...red5, ...red6, ...red7, ...red8, ...redTail];
const overviewGreen: P[] = [...green2, ...green3, ...green4, ...green5, ...green6, ...green7, ...green8, ...greenTail];

const PH = 121.3;

export default function App() {
  return (
    <div style={{ position: "absolute", left: 0, top: 0, width: W, height: 1284, background: "#fff" }}>
      <svg width={W} height={72} style={{ position: "absolute", left: 0, top: 0 }}>
        <text
          x={418}
          y={19.5}
          textAnchor="middle"
          fontFamily="Liberation Serif, DejaVu Serif, serif"
          fontSize={17}
          style={{ fontVariant: "small-caps" }}
          textLength={476}
          lengthAdjust="spacingAndGlyphs"
          fill="#000"
        >
          Substructures Regulate Inner-disk Chemistry
        </text>
        <text x={935} y={19.5} textAnchor="end" fontFamily="Liberation Serif, DejaVu Serif, serif" fontSize={17} fill="#000">
          17
        </text>
        <text x={456.7} y={64} textAnchor="middle" fontFamily={FONT} fontSize={16} fill="#000">
          sz65
        </text>
      </svg>
      <Panel top={71.7} plotH={121.6} xDomain={[4.917, 28.51]} yDomain={[0.1645, 0.516]} xTicks={ticks1X} yTicks={ticks1Y}
        xDec={0} yDec={1} spec={overviewSpec} mask={overviewMask} red={overviewRed} green={overviewGreen} anchors={[]} labelX={29.7} />
      <Panel top={217.3} plotH={PH} xDomain={[4.9, 5.5]} yDomain={[0.2377, 0.2787]} xTicks={ticks2X} yTicks={ticks2Y}
        xDec={1} yDec={2} spec={spec2} mask={mask2} red={red2} green={green2} anchors={anchors2} labelX={21} />
      <Panel top={363.3} plotH={PH} xDomain={[5.5, 8.0]} yDomain={[0.2214, 0.2523]} xTicks={ticks3X} yTicks={ticks3Y}
        xDec={1} yDec={2} spec={spec3} mask={mask3} red={red3} green={green3} anchors={anchors3} labelX={21} />
      <Panel top={509.3} plotH={PH} xDomain={[8.0, 12.0]} yDomain={[0.2394, 0.3405]} xTicks={ticks4X} yTicks={ticks4Y}
        xDec={1} yDec={2} spec={spec4} mask={mask4} red={red4} green={green4} anchors={anchors4} labelX={21} />
      <Panel top={655} plotH={PH} xDomain={[12.0, 15.395]} yDomain={[0.2573, 0.3086]} xTicks={ticks5X} yTicks={ticks5Y}
        xDec={1} yDec={2} spec={spec5} mask={mask5} red={red5} green={green5} anchors={anchors5} labelX={21} />
      <Panel top={800.3} plotH={PH} xDomain={[15.5, 18.5]} yDomain={[0.2958, 0.3847]} xTicks={ticks6X} yTicks={ticks6Y}
        xDec={1} yDec={3} spec={spec6} mask={mask6} red={red6} green={green6} anchors={anchors6} labelX={13.3} />
      <Panel top={946} plotH={PH} xDomain={[18.68, 22.0]} yDomain={[0.372, 0.4465]} xTicks={ticks7X} yTicks={ticks7Y}
        xDec={1} yDec={2} spec={spec7} mask={mask7} red={red7} green={green7} anchors={anchors7} labelX={21} />
      <Panel top={1091.7} plotH={PH} xDomain={[22.0, 27.9]} yDomain={[0.3307, 0.4769]} xTicks={ticks8X} yTicks={ticks8Y}
        xDec={0} yDec={2} spec={spec8} mask={mask8} red={red8} green={green8} anchors={anchors8} labelX={21}
        xLabel="Wavelength (µm)" />
    </div>
  );
}
